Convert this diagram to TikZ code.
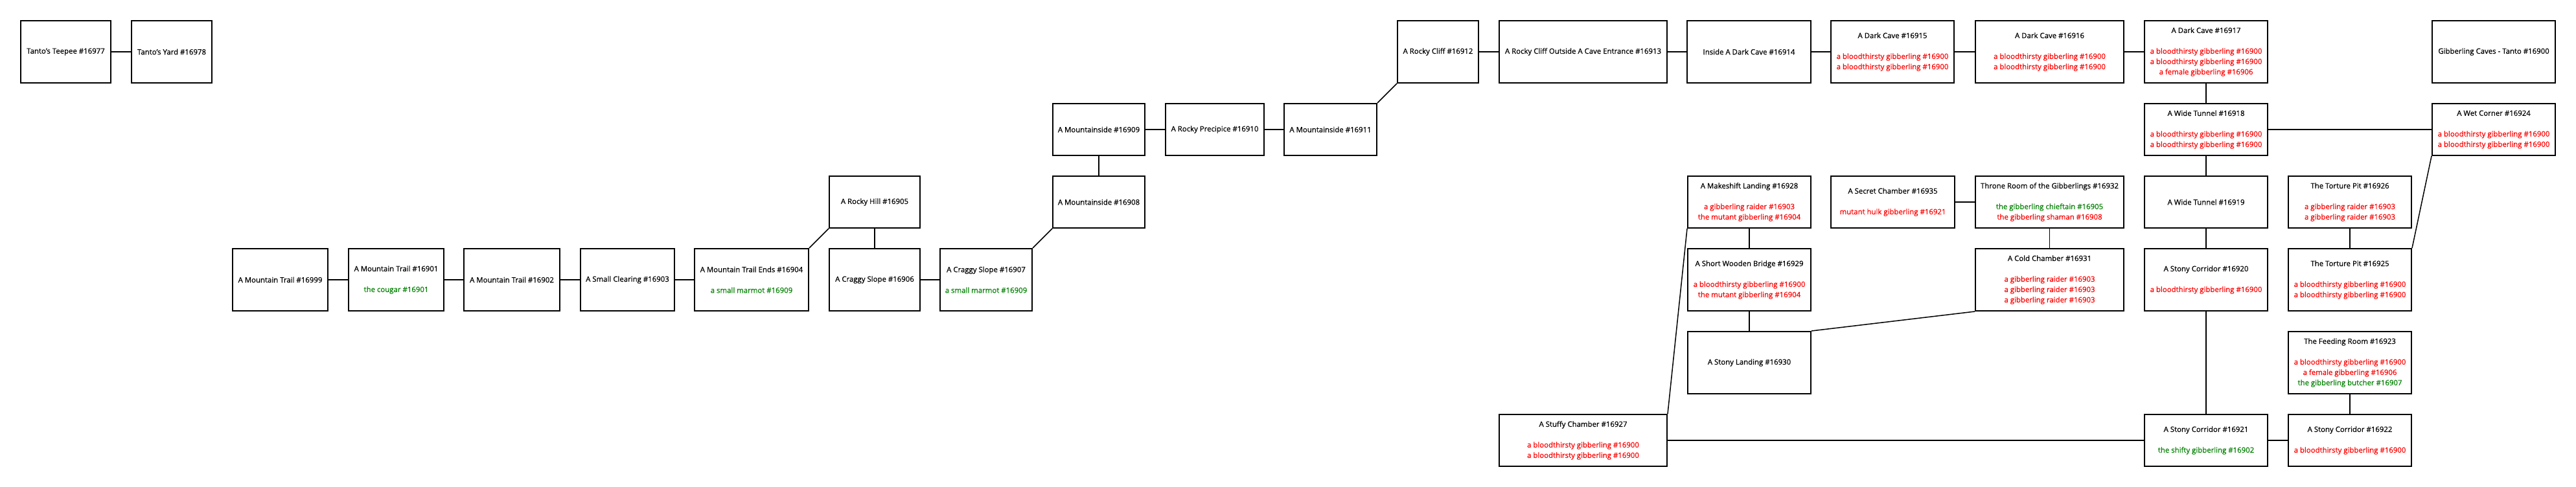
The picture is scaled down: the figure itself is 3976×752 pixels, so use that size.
\documentclass[tikz,border=0pt]{standalone}
\usepackage{fontspec}
\setmainfont{Open Sans}[FakeBold=0.6]
\definecolor{mobred}{RGB}{255,0,0}
\definecolor{mobgreen}{RGB}{0,128,0}
\tikzset{
  room/.style={draw=black, line width=2pt, fill=white, inner sep=0pt, align=center,
    font=\fontsize{11.4}{16}\selectfont},
  link/.style={draw=black, line width=1.5pt},
}
\newcommand{\mkroom}[6]{%
  \node[room, minimum width={#3-#2}, minimum height={#5-#4}] (#1) at ({(#2+#3)/2},{(#4+#5)/2}) {#6};}
\newcommand{\rd}[1]{\textcolor{mobred}{#1}}
\newcommand{\gn}[1]{\textcolor{mobgreen}{#1}}
\begin{document}
\begin{tikzpicture}[x=1pt,y=-1pt]
\useasboundingbox (0,0) rectangle (3976,752);
% row A
\mkroom{r16977}{32}{171}{32}{128}{Tanto's Teepee \#16977}
\mkroom{r16978}{203}{327}{32}{128}{Tanto's Yard \#16978}
\mkroom{r16912}{2157}{2282}{32}{128}{A Rocky Cliff \#16912}
\mkroom{r16913}{2314}{2573}{32}{128}{A Rocky Cliff Outside A Cave Entrance \#16913}
\mkroom{r16914}{2604}{2795}{32}{128}{Inside A Dark Cave \#16914}
\mkroom{r16915}{2826}{3016}{32}{128}{A Dark Cave \#16915\\[16pt]\rd{a bloodthirsty gibberling \#16900}\\\rd{a bloodthirsty gibberling \#16900}}
\mkroom{r16916}{3049}{3278}{32}{128}{A Dark Cave \#16916\\[16pt]\rd{a bloodthirsty gibberling \#16900}\\\rd{a bloodthirsty gibberling \#16900}}
\mkroom{r16917}{3310}{3500}{32}{128}{A Dark Cave \#16917\\[16pt]\rd{a bloodthirsty gibberling \#16900}\\\rd{a bloodthirsty gibberling \#16900}\\\rd{a female gibberling \#16906}}
\mkroom{r16900}{3754}{3944}{32}{128}{Gibberling Caves - Tanto \#16900}
% row B
\mkroom{r16909}{1625}{1767}{160}{240}{A Mountainside \#16909}
\mkroom{r16910}{1799}{1951}{160}{240}{A Rocky Precipice \#16910}
\mkroom{r16911}{1982}{2125}{160}{240}{A Mountainside \#16911}
\mkroom{r16918}{3310}{3500}{160}{240}{A Wide Tunnel \#16918\\[16pt]\rd{a bloodthirsty gibberling \#16900}\\\rd{a bloodthirsty gibberling \#16900}}
\mkroom{r16924}{3754}{3944}{160}{240}{A Wet Corner \#16924\\[16pt]\rd{a bloodthirsty gibberling \#16900}\\\rd{a bloodthirsty gibberling \#16900}}
% row C
\mkroom{r16905}{1280}{1420}{272}{352}{A Rocky Hill \#16905}
\mkroom{r16908}{1625}{1767}{272}{352}{A Mountainside \#16908}
\mkroom{r16928}{2605}{2795}{272}{352}{A Makeshift Landing \#16928\\[16pt]\rd{a gibberling raider \#16903}\\\rd{the mutant gibberling \#16904}}
\mkroom{r16935}{2826}{3017}{272}{352}{A Secret Chamber \#16935\\[16pt]\rd{mutant hulk gibberling \#16921}}
\mkroom{r16932}{3049}{3278}{272}{352}{Throne Room of the Gibberlings \#16932\\[16pt]\gn{the gibberling chieftain \#16905}\\\rd{the gibberling shaman \#16908}}
\mkroom{r16919}{3310}{3500}{272}{352}{A Wide Tunnel \#16919}
\mkroom{r16926}{3532}{3722}{272}{352}{The Torture Pit \#16926\\[16pt]\rd{a gibberling raider \#16903}\\\rd{a gibberling raider \#16903}}
% row D
\mkroom{r16999}{359}{506}{384}{480}{A Mountain Trail \#16999}
\mkroom{r16901}{538}{685}{384}{480}{A Mountain Trail \#16901\\[16pt]\gn{the cougar \#16901}}
\mkroom{r16902}{716}{864}{384}{480}{A Mountain Trail \#16902}
\mkroom{r16903}{896}{1041}{384}{480}{A Small Clearing \#16903}
\mkroom{r16904}{1072}{1248}{384}{480}{A Mountain Trail Ends \#16904\\[16pt]\gn{a small marmot \#16909}}
\mkroom{r16906}{1280}{1420}{384}{480}{A Craggy Slope \#16906}
\mkroom{r16907}{1451}{1593}{384}{480}{A Craggy Slope \#16907\\[16pt]\gn{a small marmot \#16909}}
\mkroom{r16929}{2605}{2795}{384}{480}{A Short Wooden Bridge \#16929\\[16pt]\rd{a bloodthirsty gibberling \#16900}\\\rd{the mutant gibberling \#16904}}
\mkroom{r16931}{3049}{3278}{384}{480}{A Cold Chamber \#16931\\[16pt]\rd{a gibberling raider \#16903}\\\rd{a gibberling raider \#16903}\\\rd{a gibberling raider \#16903}}
\mkroom{r16920}{3310}{3500}{384}{480}{A Stony Corridor \#16920\\[16pt]\rd{a bloodthirsty gibberling \#16900}}
\mkroom{r16925}{3532}{3722}{384}{480}{The Torture Pit \#16925\\[16pt]\rd{a bloodthirsty gibberling \#16900}\\\rd{a bloodthirsty gibberling \#16900}}
% row E
\mkroom{r16930}{2605}{2795}{512}{608}{A Stony Landing \#16930}
\mkroom{r16923}{3532}{3722}{512}{608}{The Feeding Room \#16923\\[16pt]\rd{a bloodthirsty gibberling \#16900}\\\rd{a female gibberling \#16906}\\\gn{the gibberling butcher \#16907}}
% row F
\mkroom{r16927}{2314}{2573}{640}{720}{A Stuffy Chamber \#16927\\[16pt]\rd{a bloodthirsty gibberling \#16900}\\\rd{a bloodthirsty gibberling \#16900}}
\mkroom{r16921}{3310}{3500}{640}{720}{A Stony Corridor \#16921\\[16pt]\gn{the shifty gibberling \#16902}}
\mkroom{r16922}{3532}{3722}{640}{720}{A Stony Corridor \#16922\\[16pt]\rd{a bloodthirsty gibberling \#16900}}
% connectors
\draw[link] (r16977) -- (r16978);
\draw[link] (r16999) -- (r16901);
\draw[link] (r16901) -- (r16902);
\draw[link] (r16902) -- (r16903);
\draw[link] (r16903) -- (r16904);
\draw[link] (r16904.north east) -- (r16905.south west);
\draw[link] (r16905) -- (r16906);
\draw[link] (r16906) -- (r16907);
\draw[link] (r16907.north east) -- (r16908.south west);
\draw[link] (r16908) -- (r16909);
\draw[link] (r16909) -- (r16910);
\draw[link] (r16910) -- (r16911);
\draw[link] (r16911.north east) -- (r16912.south west);
\draw[link] (r16912) -- (r16913);
\draw[link] (r16913) -- (r16914);
\draw[link] (r16914) -- (r16915);
\draw[link] (r16915) -- (r16916);
\draw[link] (r16916) -- (r16917);
\draw[link] (r16917) -- (r16918);
\draw[link] (r16918) -- (r16924);
\draw[link] (r16918) -- (r16919);
\draw[link] (r16919) -- (r16920);
\draw[link] (r16920) -- (r16921);
\draw[link] (r16921) -- (r16922);
\draw[link] (r16927) -- (r16921);
\draw[link] (r16927.north east) -- (r16928.south west);
\draw[link] (r16928) -- (r16929);
\draw[link] (r16929) -- (r16930);
\draw[link] (r16930.north east) -- (r16931.south west);
\draw[link] (r16931) -- (r16932);
\draw[link] (r16935) -- (r16932);
\draw[link] (r16926) -- (r16925);
\draw[link] (r16924.south west) -- (r16925.north east);
\draw[link] (r16923) -- (r16922);
\end{tikzpicture}
\end{document}
